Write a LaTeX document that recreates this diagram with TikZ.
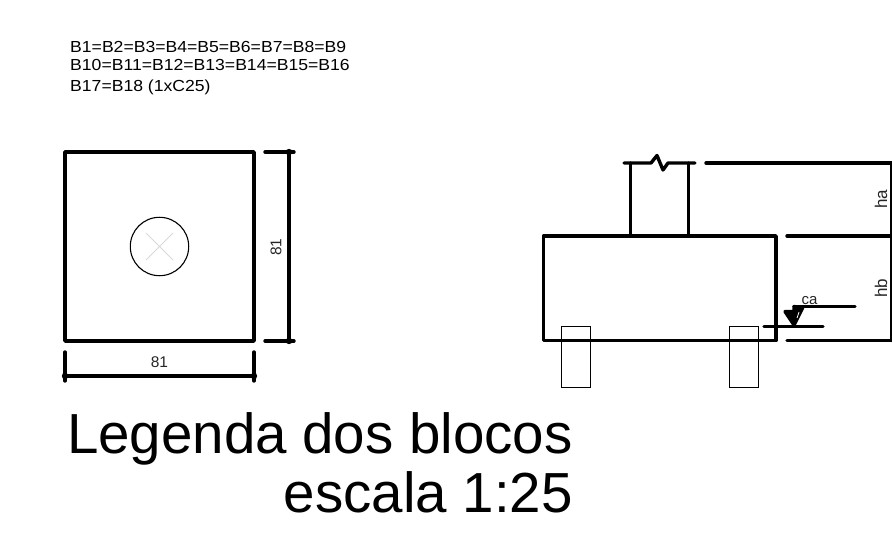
\documentclass[tikz,border=0pt]{standalone}
\usepackage{fontspec}
\setmainfont{Liberation Sans}
\newfontfamily\notefont[FakeStretch=1.1]{Liberation Sans}
\tikzset{
  thick line/.style={line width=3.4pt,line cap=round,line join=round,black},
  medium line/.style={line width=1.1pt,black},
  thin line/.style={line width=0.8pt,black},
  note label/.style={inner sep=0pt,anchor=base west,font=\notefont\fontsize{16}{18}\selectfont,text=black},
  small label/.style={inner sep=0pt,font=\fontsize{15.5}{16}\selectfont,text=black!85},
  height label/.style={inner sep=0pt,rotate=90,font=\fontsize{17}{18}\selectfont,text=black!85},
  title label/.style={inner sep=0pt,anchor=base east,font=\fontsize{56.5}{60}\selectfont,text=black},
}
\begin{document}
\begin{tikzpicture}[x=1pt,y=-1pt]
\useasboundingbox (0,0) rectangle (892,540);
% notes
\node[note label] (n1) at (70,52.5) {B1=B2=B3=B4=B5=B6=B7=B8=B9};
\node[note label] (n2) at (70,70.5) {B10=B11=B12=B13=B14=B15=B16};
\node[note label] (n3) at (70,92) {B17=B18 (1xC25)};
% plan
\draw[thick line] (65,152) rectangle (254,341);
\draw[medium line] (159.5,246.5) circle (29.2);
\draw[line width=1pt,black!15] (146,233) -- (173,260) (173,233) -- (146,260);
% plan dimensions
\draw[thick line] (289,152) -- (289,341);
\draw[thick line] (265,152) -- (294,152);
\draw[thick line] (265,341) -- (294,341);
\fill (289,152) circle (3.2) (289,341) circle (3.2);
\draw[thick line] (64.5,376) -- (254.5,376);
\draw[thick line] (65,352) -- (65,381);
\draw[thick line] (254,352) -- (254,381);
\fill (65,376) circle (3.2) (254,376) circle (3.2);
\node[small label] (d1) at (276,247) [rotate=90] {81};
\node[small label] (d2) at (159.5,362.5) {81};
% section: piles
\draw[thin line] (561,326.5) rectangle (590,387);
\draw[thin line] (729.5,326.5) rectangle (758.5,387);
% section: block and column
\draw[thick line] (543.5,236) rectangle (776,340.5);
\draw[thick line] (630.5,163) -- (630.5,236);
\draw[thick line] (688.5,163) -- (688.5,236);
\draw[thick line] (624,163) -- (651,163) -- (657,155.5) -- (663,170) -- (668,163) -- (695,163);
% section: dimension lines
\draw[thick line] (706,163) -- (891.5,163);
\draw[thick line] (787,236) -- (891.5,236);
\draw[thick line] (787,340.5) -- (891.5,340.5);
\draw[thick line] (891.5,163) -- (891.5,340.5);
\node[height label] (ha) at (881,199) {ha};
\node[height label] (hb) at (881,288) {hb};
% level marker
\draw[thick line] (764,326.5) -- (823,326.5);
\draw[thick line] (794,306.5) -- (855,306.5);
\draw[thick line,fill=black] (785,311.5) -- (794,325) -- (802.5,308) -- (794,306.5) -- (794,311.5) -- cycle;
\draw[line width=0.8pt,white] (799,312) -- (797,318);
\node[small label,anchor=base west,font=\fontsize{15}{16}\selectfont] (ca) at (801.5,305) {ca};
% title
\node[title label] (t1) at (573,453) {Legenda dos blocos};
\node[title label] (t2) at (573,512) {escala 1:25};
\end{tikzpicture}
\end{document}
